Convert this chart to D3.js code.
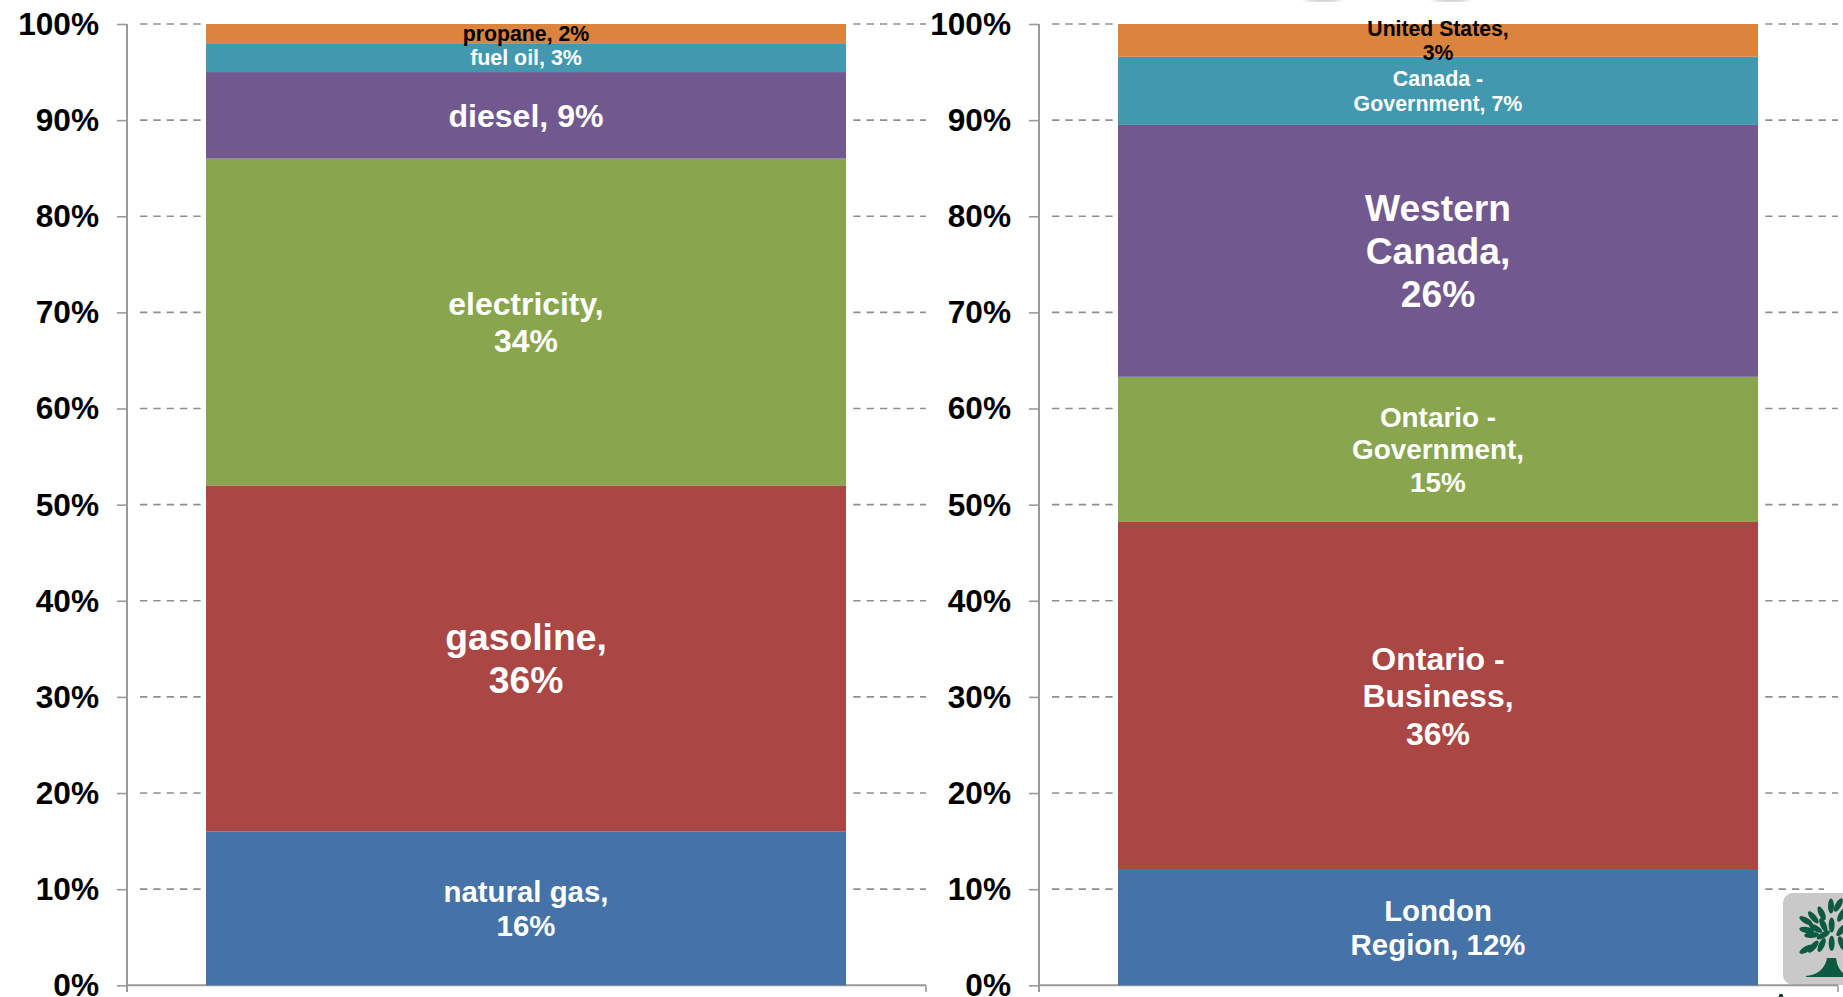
<!DOCTYPE html>
<html><head><meta charset="utf-8">
<script src="https://cdn.jsdelivr.net/npm/d3@7"></script>
<style>html,body{margin:0;background:#fff;overflow:hidden}text{font-family:"Liberation Sans",Arial,sans-serif;font-weight:bold}</style>
</head><body><svg id="c" width="1843" height="997"></svg>
<script>
const tickLabels=["0%","10%","20%","30%","40%","50%","60%","70%","80%","90%","100%"];
const tickValues=[0,10,20,30,40,50,60,70,80,90,100];
const seriesColors=["#4572A7","#AA4643","#89A54E","#71588F","#4198AF","#DB843D"];
const leftValues=[16,36,34,9,3,2];
const leftLabels=[["natural gas,","16%"],["gasoline,","36%"],["electricity,","34%"],["diesel, 9%"],["fuel oil, 3%"],["propane, 2%"]];
const rightValues=[12,36.2,15.1,26.2,7.1,3.4];
const rightLabels=[["London","Region, 12%"],["Ontario -","Business,","36%"],["Ontario -","Government,","15%"],["Western","Canada,","26%"],["Canada -","Government, 7%"],["United States,","3%"]];
const leftFont=[29.4,37.3,31.9,32.1,21.4,21.3];
const rightFont=[29.4,32,27.9,37.2,21.4,21.2];
const labelInk=["#fff","#fff","#fff","#fff","#fff","#000"];

const svg=d3.select("#c");
const defs=svg.append("defs");
defs.append("filter").attr("id","soft").append("feGaussianBlur").attr("stdDeviation",3);
defs.append("filter").attr("id","softer").append("feGaussianBlur").attr("stdDeviation",0.5);
const y=d3.scaleLinear().domain([0,100]).range([985.3,24]);
const panels=d3.scalePoint().domain(["left","right"]).range([127,1039]);
const panelWidth=799, barStart=79, barWidth=640;
const axisColor="#999", gridColor="#8f8f8f";

// corner emblem, behind the axis line, cropped by the page edge
const e=svg.append("g");
e.append("rect").attr("x",1783).attr("y",893).attr("width",90).attr("height",92).attr("rx",10).attr("fill","#c9c9c9");
const leaves=[[183,78,0],[155,100,-25],[130,112,-40],[108,122,-60],[185,135,0],[160,135,-25],[137,145,-60],[110,150,-80],[125,165,-95],[160,165,60],[185,190,0],[155,195,25],[130,200,40],[108,208,60],[215,105,30],[215,150,40],[215,190,-20],[205,75,30]];
const leaf=e.append("g").attr("filter","url(#softer)").attr("fill","#0f5a42");
leaves.forEach(([lx,ly,a])=>{
  const px=1770+lx/3, py=880+ly/3;
  leaf.append("ellipse").attr("cx",px).attr("cy",py).attr("rx",3).attr("ry",7.5)
    .attr("transform",`rotate(${a} ${px} ${py})`);
});
leaf.append("path").attr("d","M1806 976Q1824 974 1827 958L1836 958Q1838 974 1850 976L1850 977L1806 977Z");
// stray marks at the crop edges of the source image
svg.append("ellipse").attr("cx",1323).attr("cy",-3).attr("rx",18).attr("ry",4).attr("fill","#aaa").attr("filter","url(#soft)");
svg.append("ellipse").attr("cx",1451).attr("cy",-3).attr("rx",18).attr("ry",4).attr("fill","#aaa").attr("filter","url(#soft)");
svg.append("circle").attr("cx",1781).attr("cy",996).attr("r",2.2).attr("fill","#1a3d33");

function panel(name,values,labels,fonts){
  const x0=panels(name);
  const g=svg.append("g").attr("transform",`translate(${x0},0)`);
  const x=d3.scaleLinear().domain([0,1]).range([barStart,barStart+barWidth]);
  const row=Object.fromEntries(values.map((v,i)=>[i,v]));
  const stacked=d3.stack().keys(values.map((_,i)=>i))([row]);

  // dashed gridlines: two runs either side of the bar
  const grid=g.append("g");
  tickValues.filter(t=>t>0).forEach(t=>{
    grid.append("line").attr("x1",13).attr("x2",barStart-3).attr("y1",y(t)).attr("y2",y(t))
      .attr("stroke",gridColor).attr("stroke-width",1.6).attr("stroke-dasharray","7.3 6.03");
    const end=(name==="right"&&t<=10)?x(1)+66:panelWidth;
    grid.append("line").attr("x1",x(1)+7.3).attr("x2",end).attr("y1",y(t)).attr("y2",y(t))
      .attr("stroke",gridColor).attr("stroke-width",1.6).attr("stroke-dasharray","7.3 6.03");
  });

  // axis
  const axis=d3.axisLeft(y).tickValues(tickValues).tickFormat((d,i)=>tickLabels[i]).tickSize(10).tickPadding(18);
  const ag=g.append("g").call(axis);
  ag.select(".domain").remove();
  ag.selectAll("line").attr("stroke",axisColor).attr("stroke-width",1.6);
  ag.selectAll("text").attr("fill","#000").attr("font-size",31.6).attr("dy","0.33em").style("font-family",'"Liberation Sans",Arial,sans-serif').style("font-weight","bold");
  g.append("line").attr("x1",0).attr("x2",0).attr("y1",y(100)).attr("y2",992).attr("stroke",axisColor).attr("stroke-width",2);
  g.append("line").attr("x1",0).attr("x2",panelWidth).attr("y1",y(0)).attr("y2",y(0)).attr("stroke",axisColor).attr("stroke-width",2);
  g.append("line").attr("x1",panelWidth).attr("x2",panelWidth).attr("y1",y(0)).attr("y2",992).attr("stroke",axisColor).attr("stroke-width",1.5);

  // bars
  g.selectAll("rect.seg").data(stacked).join("rect").attr("class","seg")
    .attr("x",x(0)).attr("width",x(1)-x(0))
    .attr("y",d=>y(d[0][1])).attr("height",d=>y(d[0][0])-y(d[0][1]))
    .attr("fill",(d,i)=>seriesColors[i]);

  // labels
  stacked.forEach((s,i)=>{
    const lines=labels[i], fs=fonts[i], lh=fs*1.16;
    const cy=(y(s[0][0])+y(s[0][1]))/2+0.3;
    const t=g.append("text").attr("text-anchor","middle").attr("font-size",fs).attr("fill",labelInk[i]);
    lines.forEach((l,j)=>{
      t.append("tspan").attr("x",(x(0)+x(1))/2)
       .attr("y",cy+(j-(lines.length-1)/2)*lh+fs*0.35).text(l);
    });
  });
}
panel("left",leftValues,leftLabels,leftFont);
panel("right",rightValues,rightLabels,rightFont);
</script></body></html>
